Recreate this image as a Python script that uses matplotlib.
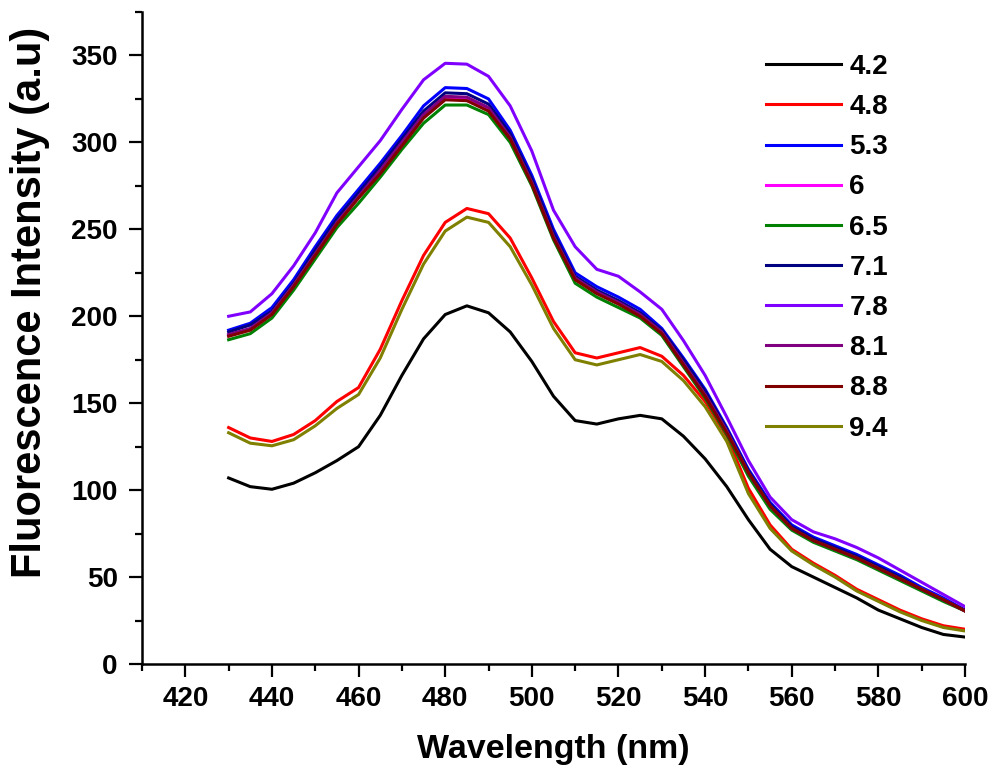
import matplotlib
matplotlib.use('Agg')
import matplotlib.pyplot as plt
from matplotlib.ticker import MultipleLocator

plt.rcParams['font.family'] = ['Liberation Sans', 'DejaVu Sans']
plt.rcParams['font.weight'] = 'bold'

# emission spectra, one curve per pH
wavelength = list(range(430, 601, 5))

ph_labels = ['4.2', '4.8', '5.3', '6', '6.5', '7.1', '7.8', '8.1', '8.8', '9.4']
colors = ['#000000', '#ff0000', '#0000ff', '#ff00ff', '#008000',
          '#000080', '#8000ff', '#800080', '#800000', '#808000']

ph42 = [107, 102, 100.5, 104, 110, 117, 125, 143, 166, 187, 201, 206, 202, 191, 174, 154, 140, 138,
        141, 143, 141, 131, 118, 102, 83, 66, 56, 50, 44, 38, 31, 26, 21, 17, 15.5]
ph48 = [136, 130, 128, 132, 140, 151, 159, 181, 209, 235, 254, 262, 259, 245, 222, 197, 179, 176,
        179, 182, 177, 166, 151, 131, 101, 80, 66, 58, 51, 43, 37, 31, 26, 22, 20]
ph53 = [192, 196, 205, 221, 240, 258, 273, 288, 304, 321, 331.5, 331, 325, 307, 281, 250, 225, 217,
        211, 204, 193, 176, 158, 136, 112, 93, 80, 73, 68, 63, 57, 51, 44, 38, 31]
ph60 = [189, 192.5, 201.5, 217.5, 235.5, 253.5, 268.5, 283, 299, 315, 325.5, 325, 319, 302.5, 276.5,
        245.5, 221.5, 213.5, 207.5, 200.5, 190.5, 172.5, 154.5, 133.5, 110, 91, 78, 71, 66, 61, 55,
        49, 43, 37, 30.5]
ph65 = [186.5, 190, 199, 215, 233, 251, 265, 280, 296, 311, 321.5, 321.5, 316, 300, 275, 244, 219, 211,
        205, 199, 189, 171, 153, 132, 108, 89, 77, 70, 65, 60, 54, 48, 42, 36, 30.5]
ph71 = [191, 195, 203, 219, 238, 256, 271, 286, 302, 318, 328.5, 328, 322, 305, 279, 248, 223, 215,
        209, 202, 192, 175, 157, 135, 111, 92, 79, 72, 67, 62, 56, 50, 43, 37, 31]
ph78 = [200, 202.5, 213, 229, 248, 271, 286, 301, 319, 336, 345.5, 345, 338, 321, 295, 261, 240, 227,
        223, 214, 204, 186, 166, 142, 117, 96, 83, 76, 72, 67, 61, 54, 47, 40, 33]
ph81 = [189.5, 193, 202, 218, 236, 254, 269, 284, 300, 316, 326.5, 326, 320, 303, 277, 246, 222, 214,
        208, 201, 191, 173, 155, 134, 110, 91, 78, 71, 66, 61, 55, 49, 43, 37, 30.5]
ph88 = [188.5, 192, 201, 217, 235, 253, 268, 282, 298, 314, 324.5, 324, 318, 302, 276, 245, 221, 213,
        207, 200, 190, 172, 154, 133, 110, 91, 78, 71, 66, 61, 55, 49, 43, 37, 30.5]
ph94 = [133, 127, 125.5, 129, 137, 147, 155, 176, 204, 230, 249, 257, 254, 240, 218, 193, 175, 172,
        175, 178, 174, 163, 148, 128, 98, 78, 65, 57, 50, 42, 36, 30, 25, 21, 19]

spectra = [ph42, ph48, ph53, ph60, ph65, ph71, ph78, ph81, ph88, ph94]

fig = plt.figure(figsize=(9.92, 7.73), dpi=100)
ax = fig.add_axes([142/992, 109/773, 823/992, 652/773])

for y, c, lab in zip(spectra, colors, ph_labels):
    ax.plot(wavelength, y, color=c, lw=2.2, label=lab, solid_joinstyle='round')

ax.set_xlim(410, 600)
ax.set_ylim(0, 375)
ax.xaxis.set_major_locator(MultipleLocator(20))
ax.xaxis.set_minor_locator(MultipleLocator(10))
ax.yaxis.set_major_locator(MultipleLocator(50))
ax.yaxis.set_minor_locator(MultipleLocator(25))
ax.set_xticks([420, 440, 460, 480, 500, 520, 540, 560, 580, 600])

for s in ['top', 'right']:
    ax.spines[s].set_visible(False)
for s in ['left', 'bottom']:
    ax.spines[s].set_linewidth(1.8)

ax.tick_params(which='major', direction='out', length=9.5, width=1.6, labelsize=20)
ax.tick_params(which='minor', direction='out', length=5, width=1.6)
ax.tick_params(axis='y', which='major', pad=8)
ax.tick_params(axis='x', which='major', pad=6)

ax.set_xlabel('Wavelength (nm)', fontsize=24.5, fontweight='bold', labelpad=16)
ax.set_ylabel('Fluorescence Intensity (a.u)', fontsize=30, fontweight='bold')
ax.yaxis.set_label_coords(-0.112, 0.554)

ax.legend(loc='upper left', bbox_to_anchor=(766/992, 1 - 54/773), bbox_transform=fig.transFigure,
          frameon=False, fontsize=20, handlelength=2.7, handletextpad=0.3, labelspacing=0.51,
          borderpad=0, borderaxespad=0)

fig.savefig('out.png', dpi=100)
